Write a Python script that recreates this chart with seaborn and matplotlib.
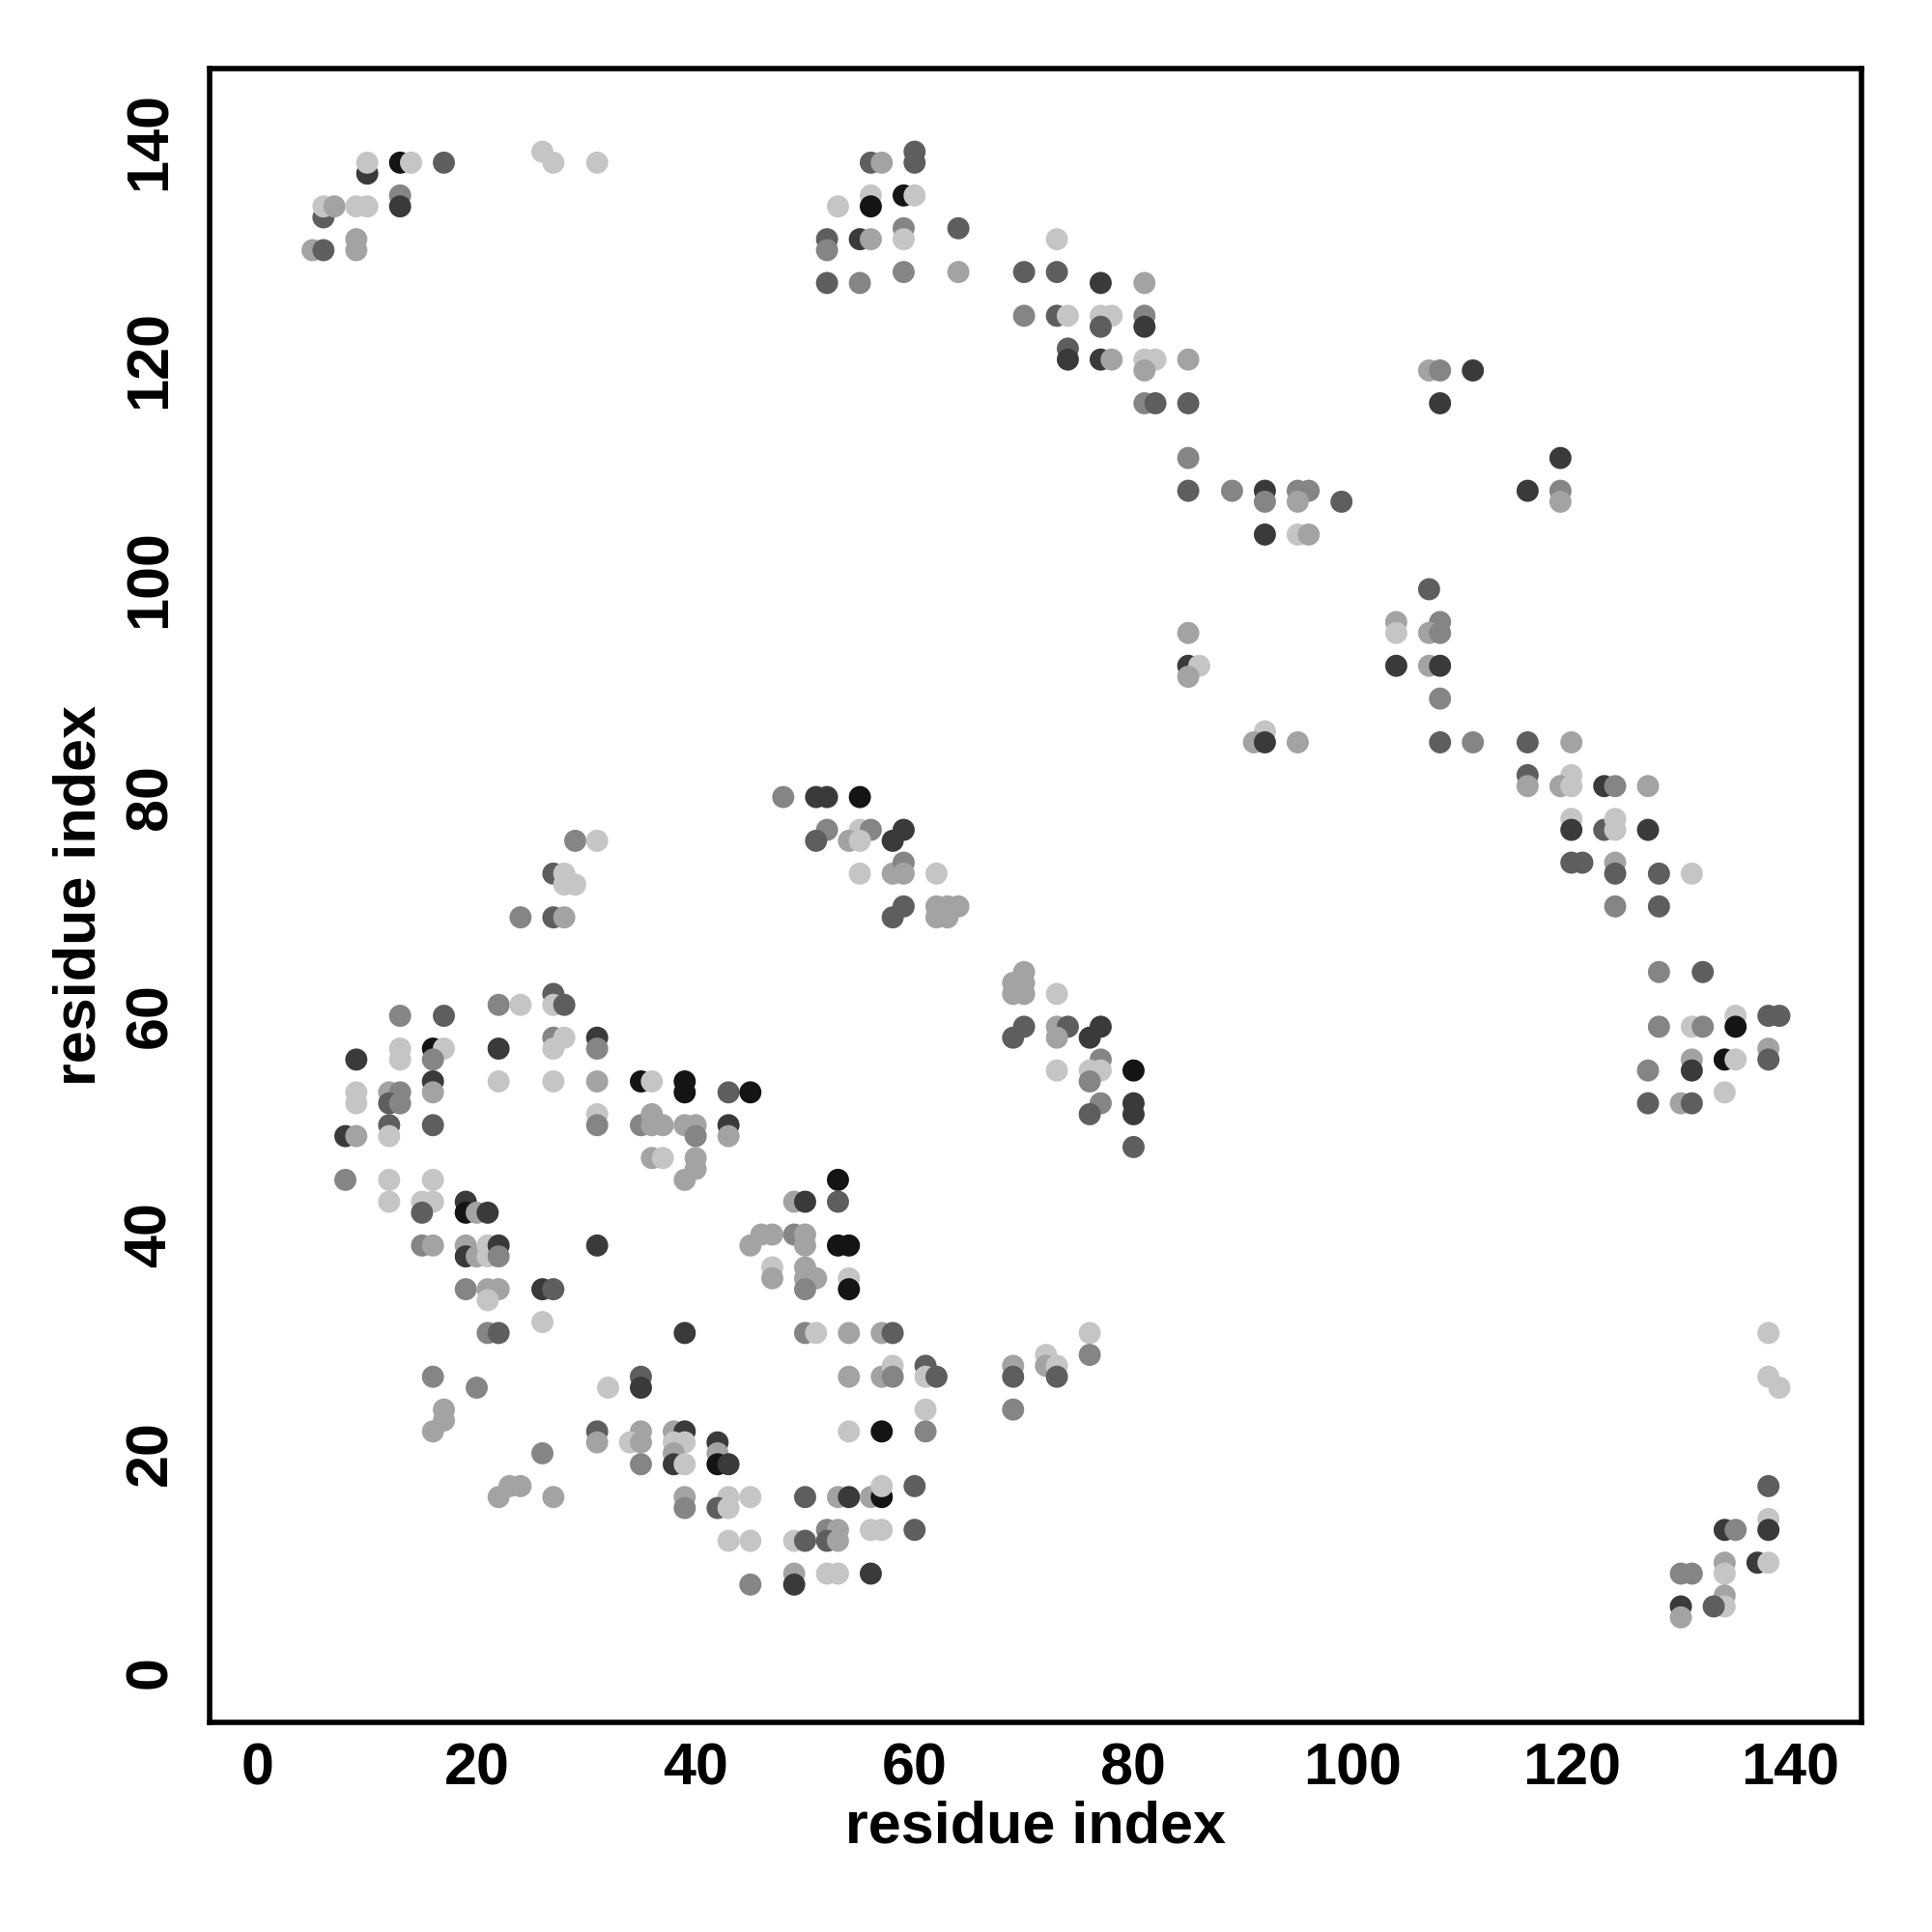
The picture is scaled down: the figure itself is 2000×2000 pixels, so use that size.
import matplotlib
matplotlib.use("Agg")
import matplotlib.pyplot as plt
import seaborn as sns
import pandas as pd

# contacts: (residue i, residue j, shade level 1=darkest .. 6=lightest)
top_left = [(5,130,5),(6,130,3),(6,133,3),(6,134,6),(7,134,5),(9,131,5),(9,130,5),(9,134,6),
            (10,134,6),(10,137,2),(10,138,6),(13,138,1),(14,138,6),(13,135,4),(13,134,2),
            (17,138,3),(26,139,6),(27,138,6),(31,138,6)]
top_mid = [(52,131,3),(52,130,4),(52,127,3),(53,134,6),(55,131,2),(56,131,5),(55,127,4),
           (56,138,3),(57,138,5),(56,135,6),(56,134,1),(59,135,1),(60,135,6),(60,139,3),
           (60,138,3),(59,132,4),(59,131,6),(59,128,4),(64,132,3),(64,128,5)]
diag_upper = [(73,131,6),(70,128,3),(73,128,3),(77,127,2),(81,127,5),(70,124,4),(73,124,3),
              (74,124,6),(77,124,6),(78,124,6),(77,123,3),(81,124,4),(81,123,2),(74,121,3),
              (74,120,2),(77,120,2),(78,120,5),(81,120,6),(82,120,6),(81,119,5),(85,120,5),
              (81,116,4),(82,116,3),(85,116,3),(85,111,4),(85,108,3),(89,108,4),(92,108,2),
              (92,107,4),(95,108,4),(96,108,4),(95,107,5),(99,107,3),(92,104,2),(95,104,6),
              (96,104,5)]
right_upper = [(107,119,5),(108,119,4),(111,119,2),(108,116,2),(119,111,2),(116,108,2),
               (119,108,4),(119,107,5),(107,99,3),(104,96,5),(104,95,6),(108,96,4),(107,95,5),
               (108,95,4),(104,92,2),(107,92,5),(108,92,2),(108,89,4),(108,85,3),(111,85,4),
               (116,85,3),(120,85,5),(116,82,3),(120,82,6)]
mid_right = [(85,95,5),(85,92,2),(86,92,6),(85,91,5),(92,86,6),(91,85,5),(92,85,2),(95,85,5)]
right_mid = [(116,81,5),(119,81,5),(120,81,6),(123,81,2),(124,81,4),(127,81,5),(120,78,6),
             (120,77,2),(123,77,3),(124,78,6),(124,77,6),(127,77,2),(120,74,3),(121,74,3),
             (124,74,5),(124,73,3),(128,73,3),(131,73,6),(124,70,4),(128,70,3),(128,64,4),
             (132,64,3),(128,59,4),(131,59,6),(132,59,4),(135,60,6),(135,59,1),(138,60,3),
             (139,60,3),(127,55,4),(131,56,5),(131,55,2),(134,56,1),(135,56,6),(138,57,5),
             (138,56,3),(134,53,6),(127,52,3),(130,52,5),(131,52,3)]
left_mid = [(29,76,4),(31,76,6),(27,73,3),(28,73,6),(28,72,6),(29,72,6),(24,69,4),(27,69,3),
            (28,69,5),(22,61,4),(24,61,6),(27,62,3),(27,61,6),(28,61,3),(13,60,4),(17,60,3),
            (27,58,4),(28,58,6),(27,57,6),(31,58,2),(31,57,4),(16,57,1),(17,57,6),(16,56,4),
            (13,57,6),(13,56,6),(22,57,2),(9,56,2),(16,54,2),(16,53,5),(22,54,6),(27,54,6),
            (31,54,5),(35,54,1),(9,53,6),(9,52,6),(12,53,5),(13,53,4),(12,52,3),(13,52,4),
            (31,51,6),(31,50,4),(12,50,3),(12,49,6),(16,50,3),(8,49,2),(9,49,5),(35,50,4),
            (36,51,5),(8,45,4),(12,45,6),(16,45,6),(12,43,6),(15,43,6),(16,43,6),(15,42,3),
            (19,43,2),(19,42,1),(20,42,5),(21,42,2),(15,39,4),(16,39,5),(19,39,5),(19,38,2),
            (20,38,5),(21,39,6),(21,38,6),(22,39,2),(22,38,4),(31,39,2),(19,35,4),(21,35,5),
            (22,35,5),(21,34,6),(26,35,2),(27,35,3),(26,32,6),(21,31,4),(22,31,3)]
centre = [(48,80,4),(51,80,2),(52,80,2),(55,80,1),(52,77,4),(51,76,3),(55,77,6),(56,77,4),
          (54,76,5),(55,76,6),(59,77,2),(58,76,2),(55,73,6),(58,73,5),(59,74,4),(59,73,5),
          (62,73,6),(59,70,3),(58,69,3),(62,70,5),(63,70,5),(64,70,5),(62,69,5),(63,69,5),
          (36,54,6),(39,54,1),(39,53,1),(43,53,3),(45,53,1),(36,50,5),(37,50,5),(39,50,5),
          (40,50,5),(40,49,4),(43,50,2),(43,49,5),(36,47,5),(37,47,6),(40,47,5),(40,46,5),
          (39,45,5),(53,45,1),(49,43,5),(50,43,2),(53,43,3),(45,39,5),(46,40,5),(47,40,5),
          (49,40,4),(50,40,5),(50,39,5),(53,39,1),(54,39,1),(47,37,6),(47,36,5),(50,37,5),
          (50,36,5),(51,36,5),(50,35,4),(54,36,6),(54,35,1),(39,31,2),(50,31,4),(51,31,6),
          (54,31,5),(57,31,5),(58,31,3)]
centre_right = [(70,64,5),(69,63,5),(70,63,5),(69,62,5),(70,62,5),(73,62,6),(70,59,3),(69,58,3),
                (73,59,5),(74,59,3),(73,58,5),(77,59,2),(76,58,2),(73,55,6),(77,56,4),(76,55,6),
                (77,55,6),(76,54,4),(80,55,1),(77,52,4),(76,51,3),(80,52,2),(80,51,2),(80,48,3),
                (76,31,6),(76,29,4),(72,29,6),(72,28,5),(73,28,6),(73,27,3),(69,28,5),(69,27,3),
                (69,24,4)]
bottom = [(16,27,4),(20,26,4),(32,26,6),(35,27,3),(35,26,2),(54,27,5),(57,27,5),(58,28,6),
          (58,27,4),(61,28,3),(61,27,6),(62,27,3),(61,24,6),(17,24,5),(17,23,5),(16,22,5),
          (31,22,3),(31,21,5),(35,22,5),(34,21,6),(35,21,5),(38,22,5),(39,22,2),(38,21,6),
          (39,21,6),(38,20,5),(38,19,2),(39,19,6),(35,19,4),(42,21,2),(42,20,5),(42,19,1),
          (43,19,2),(54,22,6),(57,22,1),(61,22,4),(26,20,4),(23,17,5),(24,17,5),(22,16,5),
          (27,16,5),(39,16,5),(39,15,4),(43,16,6),(42,15,3),(43,15,6),(45,16,6),(50,16,3),
          (53,16,5),(54,16,2),(56,16,5),(57,16,1),(57,17,6),(60,17,3),(43,12,6),(45,12,6),
          (49,12,6),(50,12,3),(52,13,4),(53,13,5),(52,12,3),(53,12,5),(56,13,6),(57,13,6),
          (60,13,3),(45,8,4),(49,9,5),(49,8,2),(52,9,6),(53,9,6),(56,9,2)]
bottom_right = [(138,31,6),(138,27,6),(139,26,6),(138,17,3),(134,13,2),(135,13,4),(138,14,6),
                (138,13,2),(137,10,2),(138,10,6),(134,10,5),(134,9,6),(130,9,4),(131,9,4),
                (134,7,5),(134,6,6),(133,6,3),(130,6,2),(130,5,5)]

ticks = [0, 20, 40, 60, 80, 100, 120, 140]
shades = {1: "#141414", 2: "#3a3a3a", 3: "#5e5e5e", 4: "#858585", 5: "#a3a3a3", 6: "#c5c5c5"}

groups = [top_left, top_mid, diag_upper, right_upper, mid_right, right_mid,
          left_mid, centre, centre_right, bottom, bottom_right]
rows = [p for g in groups for p in g]
df = pd.DataFrame(rows, columns=["i", "j", "level"])

sns.set_style("white")
plt.rcParams["font.family"] = ["Liberation Sans", "DejaVu Sans"]
plt.rcParams["font.weight"] = "bold"
plt.rcParams["text.color"] = "black"
plt.rcParams["axes.labelcolor"] = "black"
plt.rcParams["xtick.color"] = "black"
plt.rcParams["ytick.color"] = "black"

fig = plt.figure(figsize=(10, 10), dpi=200)
ax = fig.add_axes([0.1085, 0.1085, 0.855, 0.856])
sns.scatterplot(data=df, x="i", y="j", hue="level", palette=shades, s=68,
                linewidth=0, legend=False, ax=ax)

ax.set_xlim(-4.4, 146.5)
ax.set_ylim(-4.6, 146.6)
ax.set_xticks(ticks)
ax.set_yticks(ticks)
ax.set_xticklabels([str(t) for t in ticks], fontsize=22, fontweight="bold", color="black")
ax.set_yticklabels([str(t) for t in ticks], fontsize=22, fontweight="bold", color="black",
                   rotation=90, va="center")
ax.tick_params(axis="both", direction="out", length=4.5, width=1.8, color="black",
               labelcolor="black")
ax.tick_params(axis="x", pad=3)
ax.tick_params(axis="y", pad=7)
for sp in ax.spines.values():
    sp.set_color("black")
    sp.set_linewidth(2.0)
ax.set_xlabel("residue index", fontsize=22, fontweight="bold", labelpad=1, color="black")
ax.set_ylabel("residue index", fontsize=22, fontweight="bold", labelpad=6, color="black")

fig.savefig("out.png", dpi=200, facecolor="white")
